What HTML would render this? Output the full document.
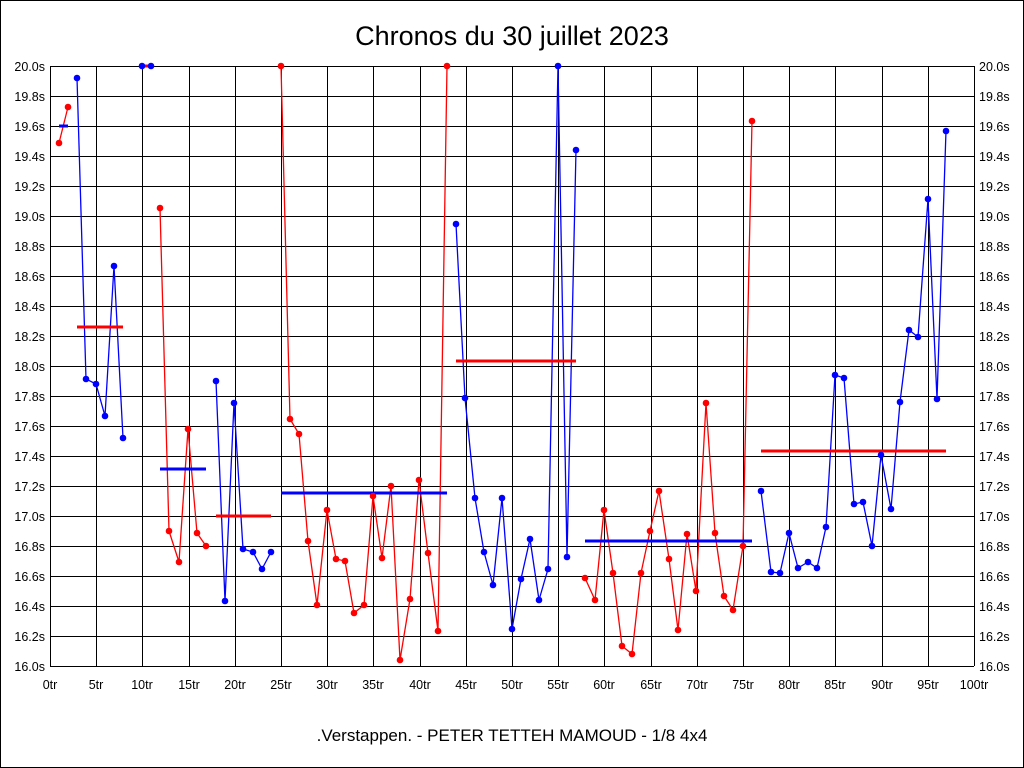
<!DOCTYPE html>
<html><head><meta charset="utf-8"><style>
body{margin:0;background:#fff;}
svg{display:block;font-family:"Liberation Sans",sans-serif;}
</style></head><body>
<svg width="1024" height="768" viewBox="0 0 1024 768" xmlns="http://www.w3.org/2000/svg">
<rect x="0.5" y="0.5" width="1023" height="767" fill="#fff" stroke="#000"/>
<text x="512" y="45" font-size="27" text-anchor="middle">Chronos du 30 juillet 2023</text>
<text x="512" y="741" font-size="17" text-anchor="middle">.Verstappen. - PETER TETTEH MAMOUD - 1/8 4x4</text>
<g id="grid" stroke="#000" stroke-width="1" shape-rendering="crispEdges"></g>
<g id="labels" font-size="12.5"></g>
<g id="data"></g>
<script>
var ns="http://www.w3.org/2000/svg";
function el(p,t,a,txt){var e=document.createElementNS(ns,t);for(var k in a)e.setAttribute(k,a[k]);if(txt!=null)e.textContent=txt;p.appendChild(e);return e;}
var g=document.getElementById('grid'),L=document.getElementById('labels'),D=document.getElementById('data');
var x0=50,x1=974,y0=66,y1=666;
for(var i=0;i<=20;i++){var y=y0+i*30;el(g,'line',{x1:x0,x2:x1,y1:y+.5,y2:y+.5});
 var v=(20-i*0.2).toFixed(1)+'s';
 el(L,'text',{x:45,y:y+5,'text-anchor':'end'},v);el(L,'text',{x:979,y:y+5},v);}
for(var i=0;i<=20;i++){var x=Math.round(x0+i*(x1-x0)/20);el(g,'line',{x1:x+.5,x2:x+.5,y1:y0,y2:y1});
 el(L,'text',{x:x,y:689,'text-anchor':'middle'},(i*5)+'tr');}
var segs=[
['r',[[59,143],[68,107]],'b',126],
['b',[[77,78],[86,379],[96,384],[105,416],[114,266],[123,438]],'r',327],
['b',[[142,66],[151,66]],'r',66],
['r',[[160,208],[169,531],[179,562],[188,429],[197,533],[206,546]],'b',469],
['b',[[216,381],[225,601],[234,403],[243,549],[253,552],[262,569],[271,552]],'r',516],
['r',[[281,66],[290,419],[299,434],[308,541],[317,605],[327,510],[336,559],[345,561],[354,613],[364,605],[373,496],[382,558],[391,486],[400,660],[410,599],[419,480],[428,553],[438,631],[447,66]],'b',493],
['b',[[456,224],[465,398],[475,498],[484,552],[493,585],[502,498],[512,629],[521,579],[530,539],[539,600],[548,569],[558,66],[567,557],[576,150]],'r',361],
['r',[[585,578],[595,600],[604,510],[613,573],[622,646],[632,654],[641,573],[650,531],[659,491],[669,559],[678,630],[687,534],[696,591],[706,403],[715,533],[724,596],[733,610],[743,546],[752,121]],'b',541],
['b',[[761,491],[771,572],[780,573],[789,533],[798,568],[808,562],[817,568],[826,527],[835,375],[844,378],[854,504],[863,502],[872,546],[881,455],[891,509],[900,402],[909,330],[918,337],[928,199],[937,399],[946,131]],'r',451]
];
var C={r:'#ff0000',b:'#0000ff'};
segs.forEach(function(s){var p=s[1];
 el(D,'polyline',{points:p.map(function(q){return q.join(',')}).join(' '),fill:'none',stroke:C[s[0]],'stroke-width':1.3});
 el(D,'line',{x1:p[0][0],x2:p[p.length-1][0],y1:s[3],y2:s[3],stroke:C[s[2]],'stroke-width':3});
 p.forEach(function(q){el(D,'circle',{cx:q[0],cy:q[1],r:3.3,fill:C[s[0]]});});
});
</script>
</svg>
</body></html>
